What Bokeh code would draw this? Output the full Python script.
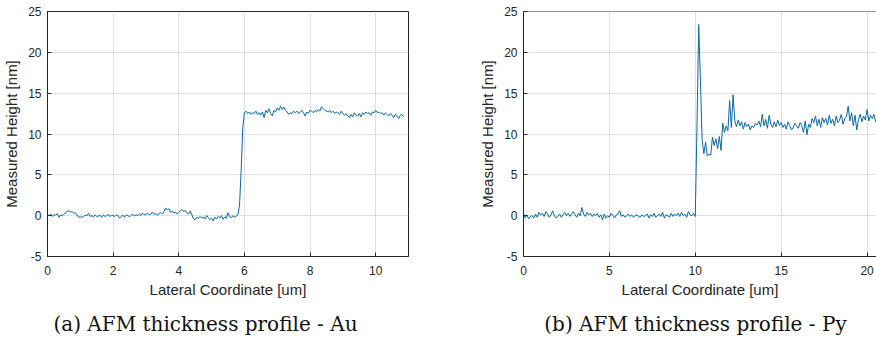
import numpy as np
from bokeh.plotting import figure
from bokeh.models import FixedTicker, Range1d, Label, Span
from bokeh.layouts import column, row
from bokeh.embed import file_html
from bokeh.resources import INLINE

# ---------------- data ----------------
# (a) Au profile: lateral coordinate sampled every 0.05 um starting at 0
au_x_start = 0.0
au_x_step = 0.05
au_height = [
    0.1, 0.0, 0.2, -0.1, 0.15, 0.05, 0.25, -0.2, 0.1, 0.0, 0.2,
    0.3, 0.55, 0.6, 0.45, 0.5, 0.3, 0.35, 0.1, -0.2, -0.15,
    -0.2, -0.1, 0.05, 0.0, 0.3, -0.1, 0.0, -0.15, 0.1, -0.1,
    -0.05, 0.05, -0.2, 0.1, -0.1, 0.0, 0.15, -0.1, 0.05, 0.0,
    -0.1, 0.1, 0.0, -0.3, -0.1, 0.05, -0.2, 0.1, 0.0, -0.15,
    0.05, 0.2, -0.05, 0.1, 0.0, 0.2, 0.05, 0.3, 0.1, 0.15,
    0.3, 0.1, 0.2, 0.45, 0.15, 0.3, 0.05, 0.25, 0.4, 0.2,
    0.5, 0.95, 0.7, 0.85, 0.4, 0.55, 0.3, 0.45, 0.2, 0.4,
    0.6, 0.75, 0.5, 0.65, 0.3, 0.2, 0.55, 0.1, -0.4, -0.5,
    -0.2, -0.35, -0.1, -0.3, -0.15, -0.4, 0.0, -0.25, -0.5, -0.3,
    -0.65, -0.2, -0.4, -0.1, -0.3, 0.0, -0.45, -0.15, -0.3, 0.35,
    -0.1, -0.25, 0.0, -0.2, -0.05, 0.1,
    1.2, 5.5, 10.8, 12.6,
    12.8, 12.5, 12.7, 12.4, 12.6, 12.5, 12.8, 12.4, 12.6, 12.3,
    12.7, 12.0, 12.9, 12.6, 13.1, 12.5, 12.2, 12.9, 12.7, 13.2,
    12.9, 13.4, 13.0, 13.3, 12.9, 12.7, 12.4, 12.6, 12.5, 12.8,
    12.6, 12.8, 12.5, 12.7, 12.9, 12.6, 12.2, 12.7, 12.5, 12.9,
    12.8, 12.6, 12.9, 12.7, 13.0, 12.8, 13.35, 13.1, 12.9, 12.8,
    12.7, 12.9, 12.6, 12.8, 12.5, 12.7, 12.6, 12.4, 12.8, 12.5,
    12.3, 12.5, 12.2, 12.0, 12.4, 12.1, 12.6, 12.3, 12.2, 12.5,
    12.1, 12.6, 12.4, 12.7, 12.5, 12.6, 12.3, 12.7, 12.6, 12.9,
    12.6, 12.7, 12.5, 12.6, 12.3, 12.6, 12.4, 12.2, 12.5, 12.3,
    12.0, 12.4, 12.2, 11.9, 12.3, 12.4, 12.1,
]

# (b) Py profile: lateral coordinate sampled every 0.1 um starting at 0
py_x_start = 0.0
py_x_step = 0.1
py_height = [
    0.2, -0.3, 0.1, -0.4, -0.1, 0.0, -0.3, 0.2, -0.2, 0.4,
    0.1, 0.3, -0.1, 0.5, 0.2, -0.2, 0.1, 0.6, 0.0, -0.3,
    -0.1, 0.2, -0.2, 0.1, 0.4, 0.0, 0.3, -0.1, 0.2, 0.5,
    0.1, -0.2, 0.3, 0.0, 1.0, 0.2, -0.1, 0.4, 0.1, 0.3,
    -0.1, 0.2, 0.0, 0.3, -0.2, 0.1, -0.5, 0.2, -0.3, 0.0,
    -0.2, 0.3, 0.0, -0.3, 0.1, 0.2, 0.6, -0.1, 0.1, -0.2,
    0.0, 0.2, -0.1, 0.1, -0.2, 0.0, 0.1, -0.1, -0.2, 0.1,
    -0.1, 0.0, 0.2, -0.3, 0.1, -0.1, 0.3, -0.2, 0.0, 0.2,
    -0.1, 0.4, -0.3, 0.1, 0.0, -0.2, 0.3, -0.1, 0.2, 0.0,
    0.3, -0.1, 0.4, 0.0, 0.2, -0.2, 0.5, 0.1, 0.0, 0.3,
    -0.1, 11.0, 23.4, 16.5, 9.2, 7.6, 9.0, 7.3, 7.5, 7.4,
    9.6, 8.6, 9.4, 8.2, 9.7, 8.0, 11.3, 10.2, 11.0, 10.4,
    14.1, 10.8, 14.8, 11.6, 10.9, 11.7, 11.0, 11.5, 10.6, 11.4,
    10.9, 11.2, 10.5, 11.0, 10.8, 11.3, 11.1, 11.6, 10.9, 12.4,
    11.0, 11.8, 10.7, 12.3, 11.2, 10.8, 11.5, 10.9, 11.7, 11.0,
    11.4, 10.8, 11.2, 10.6, 11.5, 11.0, 10.5, 10.8, 11.3, 11.0,
    10.7, 11.4, 11.0, 10.2, 11.6, 9.9, 11.2, 10.8, 11.9, 11.4,
    12.2, 11.0, 11.8, 10.8, 12.0, 11.4, 11.9, 11.1, 12.3, 11.3,
    11.8, 11.0, 12.2, 11.4, 11.7, 12.4, 11.2, 11.9, 12.1, 13.4,
    11.6, 12.6, 11.0, 12.3, 10.5, 11.8, 12.4, 11.5, 12.2, 11.7,
    13.0, 11.6, 12.3, 11.9, 12.4, 11.5, 11.9,
]

au_xticks = [0, 2, 4, 6, 8, 10]
py_xticks = [0, 5, 10, 15, 20]
yticks = [-5, 0, 5, 10, 15, 20, 25]
x_label = "Lateral Coordinate [um]"
y_label = "Measured Height [nm]"
captions = ["(a) AFM thickness profile - Au", "(b) AFM thickness profile - Py"]

# ---------------- style ----------------
AXIS_COLOR = "#262626"
GRID_COLOR = "#dfdfdf"
LINE_COLOR = "#0a6aa2"
SANS = "Liberation Sans"
PLOT_H = 302
Y_MIN, Y_MAX = -5, 25


def style_axis(ax):
    ax.axis_line_color = AXIS_COLOR
    ax.axis_line_width = 1
    ax.major_tick_line_color = AXIS_COLOR
    ax.major_tick_in = 4
    ax.major_tick_out = 0
    ax.minor_tick_line_color = None
    ax.major_label_text_font = SANS
    ax.major_label_text_color = AXIS_COLOR
    ax.major_label_text_font_size = "12px"
    ax.axis_label_text_font = SANS
    ax.axis_label_text_font_style = "normal"
    ax.axis_label_text_color = AXIS_COLOR
    ax.axis_label_text_font_size = "15px"


def make_plot(xs, ys, x_end, xticks, width, border_left, border_right, full_box):
    p = figure(width=width, height=PLOT_H,
               x_range=Range1d(0, x_end), y_range=Range1d(Y_MIN, Y_MAX),
               output_backend="svg", toolbar_location=None,
               min_border_left=border_left, min_border_right=border_right,
               min_border_top=11, min_border_bottom=PLOT_H - 256,
               x_axis_label=x_label, y_axis_label=y_label)
    p.background_fill_color = "white"
    p.border_fill_color = "white"
    if full_box:
        p.outline_line_color = AXIS_COLOR
        p.outline_line_alpha = 1.0
    else:
        p.outline_line_color = None
        p.add_layout(Span(location=Y_MAX, dimension="width",
                          line_color=AXIS_COLOR, line_width=1))

    p.xaxis.ticker = FixedTicker(ticks=xticks)
    p.yaxis.ticker = FixedTicker(ticks=yticks)
    p.xgrid.ticker = FixedTicker(ticks=xticks)
    p.ygrid.ticker = FixedTicker(ticks=yticks)
    p.yaxis.major_label_overrides = {-5: "-5"}
    p.grid.grid_line_color = GRID_COLOR
    p.grid.grid_line_width = 1

    for ax in p.xaxis:
        style_axis(ax)
        ax.major_label_standoff = 9
        ax.axis_label_standoff = 3
    for ax in p.yaxis:
        style_axis(ax)
        ax.major_label_standoff = 6
        ax.axis_label_standoff = 5

    p.line(xs, ys, line_color=LINE_COLOR, line_width=1)
    return p


au_x = au_x_start + au_x_step * np.arange(len(au_height))
py_x = py_x_start + py_x_step * np.arange(len(py_height))

p1 = make_plot(au_x, au_height, 11.0, au_xticks, 440, 47, 32, True)
p2 = make_plot(py_x, py_height, 20.55, py_xticks, 436, 83, 0, False)

cap_h = 343 - PLOT_H
cap = figure(width=876, height=cap_h, x_range=Range1d(0, 876), y_range=Range1d(0, cap_h),
             output_backend="svg", toolbar_location=None, min_border=0,
             x_axis_location=None, y_axis_location=None)
cap.grid.visible = False
cap.outline_line_color = None
for cx, txt in zip([205, 695], captions):
    cap.add_layout(Label(x=cx, y=cap_h - 21, text=txt, text_align="center",
                         text_baseline="middle", text_font="DejaVu Serif",
                         text_font_size="20px", text_color="#111111"))

layout = column(row(p1, p2), cap)
open("out.html", "w").write(file_html(layout, INLINE))
